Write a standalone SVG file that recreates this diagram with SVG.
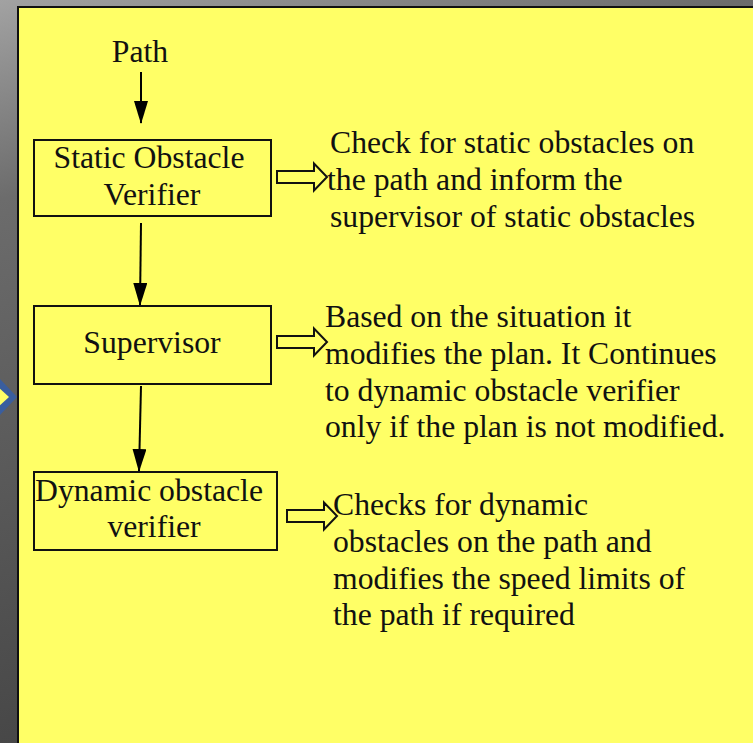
<svg xmlns="http://www.w3.org/2000/svg" xmlns:xlink="http://www.w3.org/1999/xlink" width="753" height="743" viewBox="0 0 753 743">
  <defs>
    <linearGradient id="bg" gradientUnits="userSpaceOnUse" x1="0" y1="0" x2="200" y2="743">
      <stop offset="0" stop-color="#a2a2a2"/>
      <stop offset="0.25" stop-color="#6c6c6c"/>
      <stop offset="1" stop-color="#444444"/>
    </linearGradient>
    <marker id="head" markerUnits="userSpaceOnUse" markerWidth="23" markerHeight="14" refX="22" refY="7" orient="auto" viewBox="0 0 23 14">
      <path d="M0,0 L23,7 L0,14 Z" fill="#000"/>
    </marker>
    <!-- hollow block arrow pointing right, origin at the middle of its tail -->
    <path id="blockArrow" d="M0,-6 H37 V-13.5 L50,0 L37,13.5 V6 H0 Z"/>
  </defs>
  <style>
    .panel { fill: #ffff66; stroke: #111; stroke-width: 2; }
    .box { fill: #ffff66; stroke: #111; stroke-width: 2; }
    .flow { stroke: #000; stroke-width: 2; fill: none; marker-end: url(#head); }
    .hollow { fill: #ffff66; stroke: #111; stroke-width: 2; stroke-linejoin: miter; }
    text { font-family: "Liberation Serif", "Times New Roman", serif; font-size: 31.7px; fill: #111; }
    .c { text-anchor: middle; }
  </style>

  <!-- backdrop and note panel -->
  <rect x="0" y="0" width="753" height="743" fill="url(#bg)"/>
  <rect class="panel" x="18" y="7" width="745" height="745"/>
  <polygon points="-2,377 17,397 -2,417" fill="#3a5e9e"/>
  <polygon points="-2,387 9,397 -2,407" fill="#ffff66"/>

  <g id="connectors">
    <line class="flow" x1="141" y1="72" x2="141" y2="123"/>
    <line class="flow" x1="141" y1="223" x2="140" y2="305"/>
    <line class="flow" x1="141" y1="386" x2="139" y2="471"/>
    <use class="hollow" xlink:href="#blockArrow" href="#blockArrow" transform="translate(277,177)"/>
    <use class="hollow" xlink:href="#blockArrow" href="#blockArrow" transform="translate(277,342)"/>
    <use class="hollow" xlink:href="#blockArrow" href="#blockArrow" transform="translate(287,516)"/>
  </g>

  <g id="path-label">
    <text class="c" x="140" y="62">Path</text>
  </g>

  <g id="static-verifier">
    <rect class="box" x="34" y="140" width="237" height="76"/>
    <text class="c" x="149" y="168">Static Obstacle</text>
    <text class="c" x="152" y="205">Verifier</text>
  </g>

  <g id="supervisor">
    <rect class="box" x="34" y="306" width="237" height="78"/>
    <text class="c" x="152" y="353">Supervisor</text>
  </g>

  <g id="dynamic-verifier">
    <rect class="box" x="34" y="472" width="243" height="78"/>
    <text class="c" x="149" y="501">Dynamic obstacle</text>
    <text class="c" x="154" y="537">verifier</text>
  </g>

  <g id="static-note">
    <text x="330" y="153">Check for static obstacles on</text>
    <text x="327" y="190">the path and inform the</text>
    <text x="330" y="227">supervisor of static obstacles</text>
  </g>

  <g id="supervisor-note">
    <text x="325" y="327">Based on the situation it</text>
    <text x="325" y="364">modifies the plan. It Continues</text>
    <text x="325" y="401">to dynamic obstacle verifier</text>
    <text x="325" y="437">only if the plan is not modified.</text>
  </g>

  <g id="dynamic-note">
    <text x="333" y="515">Checks for dynamic</text>
    <text x="333" y="552">obstacles on the path and</text>
    <text x="333" y="589">modifies the speed limits of</text>
    <text x="333" y="625">the path if required</text>
  </g>
</svg>
